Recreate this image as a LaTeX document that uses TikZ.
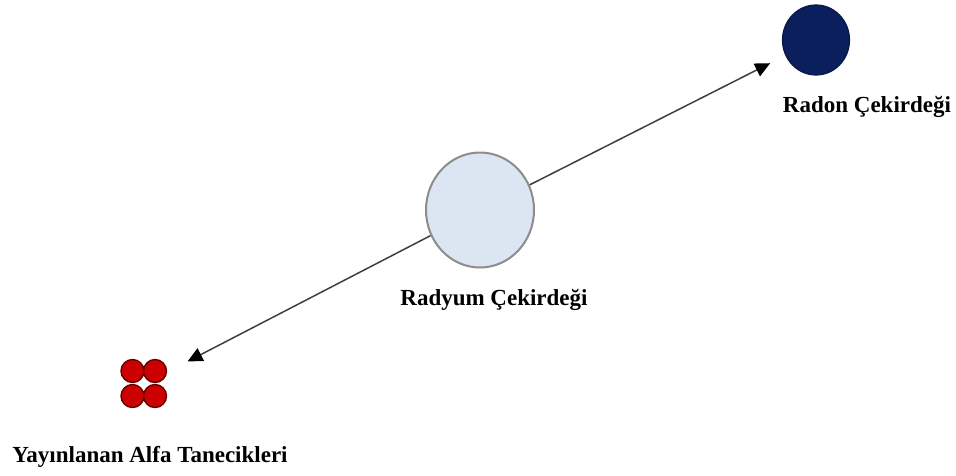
\documentclass[tikz,border=0pt]{standalone}
\usepackage{fontspec}
\setmainfont{Liberation Serif}
\usetikzlibrary{arrows.meta,shapes.geometric}
\definecolor{radiumfill}{HTML}{DCE6F2}
\definecolor{radonfill}{HTML}{0A1F5C}
\definecolor{alphafill}{HTML}{CC0000}
\begin{document}
\begin{tikzpicture}[x=1pt,y=-1pt,
  lbl/.style={font=\fontsize{23}{27}\selectfont\bfseries, inner sep=0pt},
  nucleus/.style={ellipse, draw=gray!90, line width=2pt, inner sep=0pt},
  alphap/.style={circle, draw=black!60!red, line width=1.4pt, fill=alphafill, minimum size=23pt, inner sep=0pt},
  conn/.style={draw=black!75, line width=1.5pt, -{Triangle[length=15pt,width=14pt,fill=black,color=black]}}
]
\useasboundingbox (0,0) rectangle (956,475);
\fill[white] (0,0) rectangle (956,475);
\node[nucleus, fill=radiumfill, minimum width=108pt, minimum height=115pt] (ra) at (480,210) {};
\node[nucleus, draw=radonfill!80!black, line width=1.2pt, fill=radonfill, minimum width=67pt, minimum height=70pt] (rn) at (816,40) {};
\node[alphap] (a1) at (132.5,371) {};
\node[alphap] (a2) at (155,371) {};
\node[alphap] (a3) at (132.5,396) {};
\node[alphap] (a4) at (155,396) {};
\coordinate (alpha) at (144,384);
\node[lbl] (lra) at (494,300) {Radyum Çekirdeği};
\node[lbl] (lrn) at (867,107) {Radon Çekirdeği};
\node[lbl] (lal) at (150,457) {Yayınlanan Alfa Tanecikleri};
\draw[conn, shorten >=17pt] (ra) -- (rn);
\draw[conn, shorten >=49pt] (ra) -- (alpha);
\end{tikzpicture}
\end{document}
